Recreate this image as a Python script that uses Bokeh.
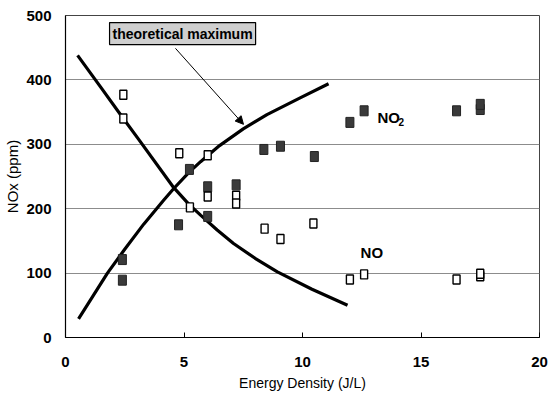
from bokeh.plotting import figure
from bokeh.models import ColumnDataSource, Label, Arrow, NormalHead, FixedTicker
from bokeh.embed import file_html
from bokeh.resources import INLINE

# ---- data ----
no_x = [2.44, 2.44, 4.8, 5.25, 6.0, 6.0, 7.2, 7.2, 8.4, 9.07, 10.46, 12.0, 12.6, 16.5, 17.5, 17.5]
no_y = [377, 340, 286, 202, 283, 219, 220, 208, 169, 153, 177, 90, 98, 90, 95, 99]

no2_x = [2.4, 2.4, 4.77, 5.23, 6.0, 6.0, 7.2, 8.37, 9.07, 10.5, 12.0, 12.6, 16.5, 17.5, 17.5]
no2_y = [121, 89, 175, 261, 234, 188, 237, 292, 297, 281, 334, 352, 352, 354, 362]

# theoretical maximum curves
no2_max_x = [0.55, 1.77, 2.5, 3.3, 4.14, 4.56, 5.2, 5.7, 6.5, 7.5, 8.5, 9.9, 11.1]
no2_max_y = [29, 100, 137, 176, 213, 231, 256, 273, 298, 324, 346, 372, 394]

no_max_x = [0.51, 1.5, 2.4, 3.08, 4.56, 5.2, 5.7, 6.4, 7.09, 8.0, 8.94, 10.4, 11.9]
no_max_y = [438, 388, 342, 308, 233, 207, 190, 167, 146, 123, 102, 75, 50]

x_ticks = [0, 5, 10, 15, 20]
y_ticks = [0, 100, 200, 300, 400, 500]

FONT = "Liberation Sans Narrow, Liberation Sans, Arial"

p = figure(width=560, height=397, x_range=(0, 20), y_range=(0, 500),
           output_backend="svg", toolbar_location=None,
           min_border_left=65, min_border_right=21, min_border_top=15, min_border_bottom=60)
p.background_fill_color = "white"
p.border_fill_color = "white"
p.outline_line_color = "#444444"
p.outline_line_width = 1

p.xgrid.grid_line_color = None
p.ygrid.grid_line_color = "#8c8c8c"
p.ygrid.grid_line_width = 1.2

p.xaxis.ticker = FixedTicker(ticks=x_ticks)
p.yaxis.ticker = FixedTicker(ticks=y_ticks)

for ax in (p.xaxis[0], p.yaxis[0]):
    ax.axis_line_color = "black"
    ax.axis_line_width = 1.2
    ax.minor_tick_line_color = None
    ax.major_label_text_font = FONT
    ax.major_label_text_font_size = "15px"
    ax.major_label_text_font_style = "bold"
    ax.major_label_text_color = "black"
    ax.axis_label_text_font = FONT
    ax.axis_label_text_font_size = "14px"
    ax.axis_label_text_font_style = "normal"
    ax.axis_label_text_color = "black"

p.xaxis.major_tick_in = 5
p.xaxis.major_tick_out = 0
p.xaxis.major_tick_line_color = "black"
p.xaxis.major_label_standoff = 19
p.xaxis.axis_label = "Energy Density (J/L)"
p.xaxis.axis_label_standoff = 5

p.yaxis.major_tick_in = 0
p.yaxis.major_tick_out = 0
p.yaxis.major_label_standoff = 14
p.yaxis.axis_label = "NOx (ppm)"
p.yaxis.axis_label_standoff = 2
p.yaxis.axis_label_text_font_size = "15px"

# curves
p.line(no2_max_x, no2_max_y, line_color="black", line_width=3.2)
p.line(no_max_x, no_max_y, line_color="black", line_width=3.2)

# markers
src_no2 = ColumnDataSource(dict(x=no2_x, y=no2_y))
src_no = ColumnDataSource(dict(x=no_x, y=no_y))
p.rect("x", "y", width=8, height=10, width_units="screen", height_units="screen",
       source=src_no2, fill_color="#3a3a3a", line_color="#222222", line_width=1)
p.rect("x", "y", width=7, height=9, width_units="screen", height_units="screen",
       source=src_no, fill_color="white", line_color="black", line_width=1.4)

# annotation box and arrow
p.add_layout(Label(x=4.94, y=472, text="theoretical maximum", text_align="center",
                   text_baseline="middle", text_font=FONT, text_font_size="14px",
                   text_font_style="bold", text_color="black",
                   background_fill_color="#cfcfcf", border_line_color="black",
                   border_line_width=1.2, padding=3))
p.add_layout(Arrow(end=NormalHead(size=8, fill_color="black", line_color="black"),
                   x_start=4.64, y_start=449, x_end=7.51, y_end=331,
                   line_color="black", line_width=1))

# series labels
p.add_layout(Label(x=13.16, y=342, text="NO", text_align="left", text_baseline="middle",
                   text_font=FONT, text_font_size="15px", text_font_style="bold",
                   text_color="black"))
p.add_layout(Label(x=13.16, y=342, x_offset=21, y_offset=-5, text="2", text_align="left",
                   text_baseline="middle", text_font=FONT, text_font_size="10px",
                   text_font_style="bold", text_color="black"))
p.add_layout(Label(x=12.45, y=132, text="NO", text_align="left", text_baseline="middle",
                   text_font=FONT, text_font_size="15px", text_font_style="bold",
                   text_color="black"))

open("out.html", "w").write(file_html(p, INLINE))
